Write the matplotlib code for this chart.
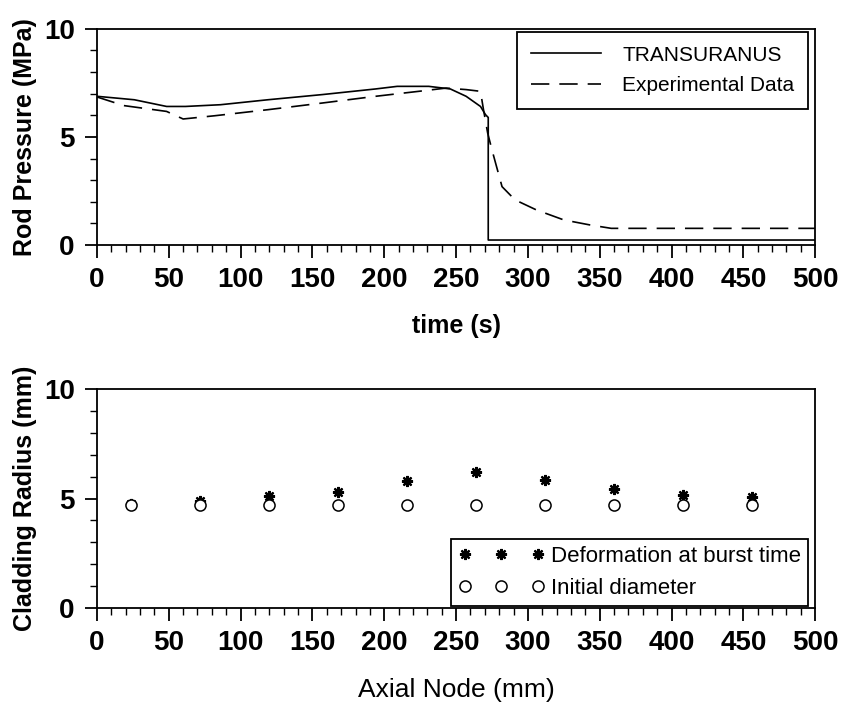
import matplotlib
matplotlib.use("Agg")
import matplotlib.pyplot as plt
from matplotlib.ticker import MultipleLocator

SANS = "Liberation Sans"

# Rod internal pressure vs time
t_calc = [0, 26, 48.5, 61.6, 86, 119, 157, 194, 209, 231, 246, 257, 267, 270.5, 272.4, 272.4, 500]
p_calc = [6.88, 6.72, 6.41, 6.41, 6.49, 6.72, 6.96, 7.22, 7.34, 7.34, 7.22, 6.88, 6.41, 6.03, 5.9, 0.23, 0.23]

t_exp = [0, 18.7, 48.5, 60, 82, 119, 157, 194, 224, 243, 257, 267, 269, 272, 275, 282, 291, 306, 325, 343, 358, 500]
p_exp = [6.85, 6.45, 6.18, 5.83, 5.98, 6.26, 6.57, 6.88, 7.11, 7.26, 7.19, 7.11, 6.3, 5.18, 4.4, 2.7, 2.09, 1.62, 1.16, 0.93, 0.77, 0.77]

# Cladding radius along the rod
axial_node = [24, 72, 120, 168, 216, 264, 312, 360, 408, 456]
r_burst = [4.75, 4.89, 5.12, 5.29, 5.79, 6.2, 5.85, 5.43, 5.17, 5.05]
r_initial = [4.71, 4.71, 4.71, 4.71, 4.71, 4.71, 4.71, 4.71, 4.71, 4.71]

xticks = [0, 50, 100, 150, 200, 250, 300, 350, 400, 450, 500]
yticks = [0, 5, 10]

fig = plt.figure(figsize=(8.43, 7.04), dpi=100)
ax1 = fig.add_axes([0.115, 0.652, 0.852, 0.307])
ax2 = fig.add_axes([0.115, 0.1364, 0.852, 0.311])


def style_axes(ax):
    ax.set_xlim(0, 500)
    ax.set_ylim(0, 10)
    ax.set_xticks(xticks)
    ax.set_yticks(yticks)
    ax.xaxis.set_minor_locator(MultipleLocator(10))
    ax.yaxis.set_minor_locator(MultipleLocator(1))
    ax.tick_params(which="major", direction="out", length=9, width=1.3,
                   labelsize=20, pad=7)
    ax.tick_params(which="minor", direction="out", length=5, width=1.0)
    for lab in ax.get_xticklabels() + ax.get_yticklabels():
        lab.set_fontfamily(SANS)
        lab.set_fontweight("bold")
    for sp in ax.spines.values():
        sp.set_linewidth(1.3)


ax1.plot(t_calc, p_calc, color="black", lw=1.2, label="TRANSURANUS")
ax1.plot(t_exp, p_exp, color="black", lw=1.2, dashes=(11, 6), label="Experimental Data")
style_axes(ax1)
ax1.set_xlabel("time (s)", fontfamily=SANS, fontweight="bold", fontsize=18, labelpad=15)
ax1.set_ylabel("Rod Pressure (MPa)", fontfamily=SANS, fontweight="bold", fontsize=18, labelpad=5)
leg1 = ax1.legend(loc="upper right", bbox_to_anchor=(0.99, 0.985), frameon=True,
                  fancybox=False, edgecolor="black", framealpha=1,
                  prop={"family": SANS, "size": 15}, handlelength=3.4,
                  handletextpad=1.0, borderpad=0.65, labelspacing=0.55,
                  borderaxespad=0)
leg1.get_frame().set_linewidth(1.3)

ax2.plot(axial_node, r_burst, linestyle="none", marker=(8, 2, 0), markersize=8,
         markeredgewidth=1.6, color="black", label="Deformation at burst time")
ax2.plot(axial_node, r_initial, linestyle="none", marker="o", markersize=8,
         markerfacecolor="white", markeredgecolor="black", markeredgewidth=1.1,
         label="Initial diameter")
style_axes(ax2)
ax2.set_xlabel("Axial Node (mm)", fontfamily=SANS, fontsize=19, labelpad=16)
ax2.set_ylabel("Cladding Radius (mm)", fontfamily=SANS, fontweight="bold", fontsize=18, labelpad=5)
leg2 = ax2.legend(loc="lower right", bbox_to_anchor=(0.99, 0.01), frameon=True,
                  fancybox=False, edgecolor="black", framealpha=1,
                  prop={"family": SANS, "size": 16}, numpoints=3,
                  handlelength=3.9, handletextpad=0.3, borderpad=0.3,
                  labelspacing=0.5, borderaxespad=0)
leg2.get_frame().set_linewidth(1.3)

fig.savefig("out.png", dpi=100)
